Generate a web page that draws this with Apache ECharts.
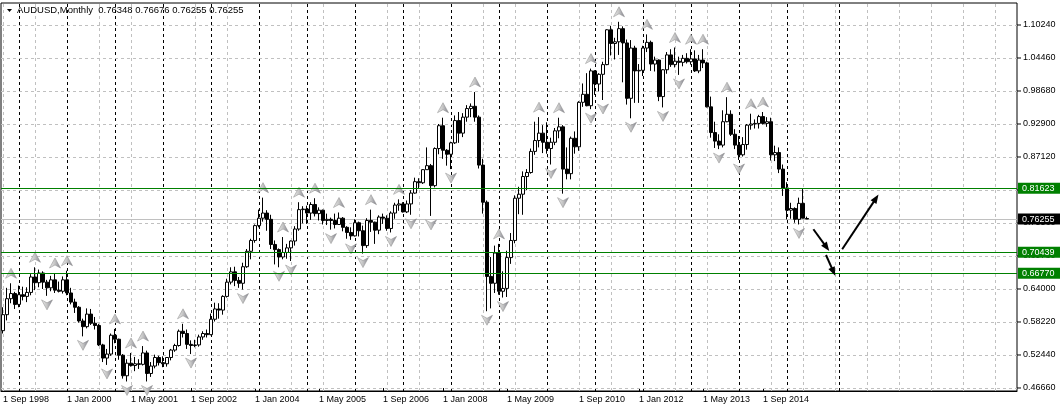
<!DOCTYPE html>
<html>
<head>
<meta charset="utf-8">
<script src="https://cdn.jsdelivr.net/npm/echarts@6.0.0/dist/echarts.min.js"></script>
<style>
html,body{margin:0;padding:0;background:#ffffff;}
#chart{width:1060px;height:409px;}
</style>
</head>
<body>
<div id="chart"></div>
<script>
// ---------------- data ----------------
const headerText = 'AUDUSD,Monthly  0.76348 0.76676 0.76255 0.76255';
const firstYear = 1998, firstMonth = 9;   // first monthly bar: Sep 1998
const axisMonths = 254;                   // slots on the time axis (incl. right-hand empty space)

// Monthly OHLC, Sep 1998 .. Jun 2015
const opens = [
  0.5670,0.5950,0.6230,0.6320,
  0.6130,0.6300,0.6270,0.6340,0.6610,0.6510,0.6680,0.6520,0.6420,0.6560,0.6380,0.6360,
  0.6560,0.6330,0.6170,0.6080,0.5840,0.5740,0.5960,0.5800,0.5760,0.5420,0.5190,0.5260,
  0.5590,0.5520,0.5240,0.4880,0.5100,0.5060,0.5090,0.5080,0.5280,0.4920,0.5050,0.5200,
  0.5110,0.5090,0.5200,0.5330,0.5410,0.5660,0.5620,0.5430,0.5410,0.5420,0.5560,0.5620,
  0.5600,0.5870,0.6050,0.6030,0.6270,0.6520,0.6700,0.6550,0.6500,0.6790,0.7060,0.7250,
  0.7510,0.7640,0.7730,0.7620,0.7180,0.7090,0.6960,0.7040,0.7120,0.7240,0.7450,0.7790,
  0.7800,0.7730,0.7880,0.7720,0.7780,0.7600,0.7620,0.7600,0.7530,0.7640,0.7480,0.7390,
  0.7330,0.7560,0.7420,0.7160,0.7600,0.7570,0.7430,0.7660,0.7640,0.7460,0.7730,0.7870,
  0.7890,0.7750,0.7890,0.8080,0.8280,0.8260,0.8490,0.8560,0.8210,0.8860,0.9260,0.8830,
  0.8760,0.8960,0.9350,0.9130,0.9410,0.9560,0.9600,0.9410,0.8570,0.7920,0.6620,0.6500,
  0.7030,0.6360,0.6410,0.6950,0.7250,0.7990,0.8060,0.8370,0.8440,0.8810,0.9000,0.9130,
  0.8970,0.8860,0.8970,0.9170,0.9240,0.8500,0.8420,0.9040,0.8890,0.9670,0.9810,0.9610,
  1.0220,0.9990,1.0160,1.0330,1.0940,1.0700,1.0730,1.0960,1.0710,0.9740,1.0620,1.0220,
  1.0230,1.0620,1.0720,1.0340,1.0410,0.9770,1.0240,1.0500,1.0330,1.0390,1.0370,1.0440,
  1.0380,1.0430,1.0220,1.0410,1.0360,0.9590,0.9140,0.8990,0.8920,0.9330,0.9460,0.9110,
  0.8920,0.8750,0.8930,0.9270,0.9290,0.9300,0.9420,0.9300,0.9330,0.8750,0.8790,0.8500,
  0.8170,0.7780,0.7810,0.7620,0.7900,0.76348
];
const highs = [
  0.6080,0.6420,0.6500,0.6350,
  0.6460,0.6440,0.6430,0.6660,0.6780,0.6740,0.6710,0.6560,0.6630,0.6680,0.6530,0.6620,
  0.6720,0.6420,0.6230,0.6100,0.5880,0.6060,0.6050,0.5910,0.5790,0.5440,0.5350,0.5620,
  0.5700,0.5530,0.5260,0.5170,0.5280,0.5210,0.5170,0.5400,0.5320,0.5120,0.5250,0.5230,
  0.5220,0.5200,0.5350,0.5440,0.5690,0.5790,0.5690,0.5500,0.5510,0.5600,0.5660,0.5690,
  0.5970,0.6160,0.6150,0.6290,0.6580,0.6780,0.6790,0.6610,0.6860,0.7100,0.7280,0.7530,
  0.7790,0.8000,0.7780,0.7700,0.7250,0.7110,0.7310,0.7190,0.7250,0.7500,0.7920,0.7850,
  0.7860,0.7920,0.7990,0.7830,0.7790,0.7720,0.7650,0.7720,0.7740,0.7660,0.7500,0.7480,
  0.7620,0.7580,0.7510,0.7640,0.7790,0.7580,0.7690,0.7720,0.7690,0.7760,0.7910,0.7970,
  0.7920,0.7950,0.8130,0.8350,0.8340,0.8500,0.8880,0.8590,0.8880,0.9290,0.9400,0.8850,
  0.8980,0.9440,0.9500,0.9480,0.9620,0.9650,0.9850,0.9440,0.8680,0.7950,0.6960,0.7160,
  0.7190,0.6710,0.7070,0.7380,0.8040,0.8190,0.8460,0.8500,0.8860,0.9330,0.9410,0.9270,
  0.9320,0.9050,0.9220,0.9400,0.9270,0.8880,0.9070,0.9160,0.9690,1.0000,1.0180,1.0260,
  1.0230,1.0180,1.0380,1.0950,1.1010,1.0800,1.1080,1.1000,1.0770,1.0760,1.0660,1.0340,
  1.0660,1.0860,1.0750,1.0470,1.0420,1.0250,1.0550,1.0600,1.0630,1.0470,1.0500,1.0530,
  1.0600,1.0580,1.0500,1.0600,1.0380,0.9770,0.9330,0.9110,0.9530,0.9760,0.9530,0.9200,
  0.9080,0.9060,0.9290,0.9470,0.9370,0.9450,0.9500,0.9410,0.9400,0.8910,0.8880,0.8580,
  0.8270,0.7910,0.7830,0.8000,0.8163,0.76676
];
const lows = [
  0.5620,0.5850,0.6150,0.6050,
  0.6080,0.6200,0.6170,0.6290,0.6380,0.6430,0.6400,0.6280,0.6360,0.6330,0.6340,0.6320,
  0.6290,0.6130,0.5980,0.5810,0.5570,0.5710,0.5770,0.5690,0.5400,0.5120,0.5070,0.5230,
  0.5450,0.5160,0.4830,0.4780,0.5040,0.4960,0.5000,0.5060,0.4780,0.4860,0.5010,0.5060,
  0.5030,0.5040,0.5150,0.5300,0.5390,0.5550,0.5350,0.5260,0.5380,0.5390,0.5510,0.5550,
  0.5590,0.5830,0.5880,0.5950,0.6250,0.6480,0.6450,0.6420,0.6390,0.6770,0.6920,0.7210,
  0.7480,0.7580,0.7420,0.7100,0.6830,0.6780,0.6920,0.6930,0.6890,0.7160,0.7420,0.7550,
  0.7540,0.7610,0.7670,0.7600,0.7530,0.7520,0.7440,0.7460,0.7530,0.7410,0.7280,0.7260,
  0.7320,0.7320,0.7020,0.7120,0.7400,0.7190,0.7360,0.7540,0.7420,0.7390,0.7630,0.7770,
  0.7740,0.7730,0.7700,0.8070,0.8160,0.8240,0.8490,0.7680,0.8180,0.8760,0.8680,0.8560,
  0.8500,0.8940,0.8960,0.9060,0.9330,0.9410,0.9330,0.8510,0.7720,0.6010,0.6060,0.6330,
  0.6300,0.6250,0.6260,0.6840,0.7200,0.7710,0.7700,0.8130,0.8420,0.8750,0.8880,0.8780,
  0.8770,0.8580,0.8920,0.9040,0.8070,0.8320,0.8320,0.8770,0.8820,0.9590,0.9600,0.9550,
  0.9800,0.9860,0.9710,1.0320,1.0490,1.0420,1.0500,1.0020,0.9630,0.9390,0.9660,0.9660,
  1.0130,1.0550,1.0220,1.0210,0.9690,0.9580,1.0170,1.0290,1.0280,1.0150,1.0300,1.0350,
  1.0330,1.0200,1.0180,1.0270,0.9580,0.9050,0.8870,0.8850,0.8880,0.9320,0.9080,0.8850,
  0.8660,0.8720,0.8840,0.9190,0.9210,0.9210,0.9280,0.9240,0.8650,0.8640,0.8430,0.8030,
  0.7620,0.7630,0.7560,0.7530,0.7640,0.76255
];
const closes = [
  0.5950,0.6230,0.6320,0.6130,
  0.6300,0.6270,0.6340,0.6610,0.6510,0.6680,0.6520,0.6420,0.6560,0.6380,0.6360,0.6560,
  0.6330,0.6170,0.6080,0.5840,0.5740,0.5960,0.5800,0.5760,0.5420,0.5190,0.5260,0.5590,
  0.5520,0.5240,0.4880,0.5100,0.5060,0.5090,0.5080,0.5280,0.4920,0.5050,0.5200,0.5110,
  0.5090,0.5200,0.5330,0.5410,0.5660,0.5620,0.5430,0.5410,0.5420,0.5560,0.5620,0.5600,
  0.5870,0.6050,0.6030,0.6270,0.6520,0.6700,0.6550,0.6500,0.6790,0.7060,0.7250,0.7510,
  0.7640,0.7730,0.7620,0.7180,0.7090,0.6960,0.7040,0.7120,0.7240,0.7450,0.7790,0.7800,
  0.7730,0.7880,0.7720,0.7780,0.7600,0.7620,0.7600,0.7530,0.7640,0.7480,0.7390,0.7330,
  0.7560,0.7420,0.7160,0.7600,0.7570,0.7430,0.7660,0.7640,0.7460,0.7730,0.7870,0.7890,
  0.7750,0.7890,0.8080,0.8280,0.8260,0.8490,0.8560,0.8210,0.8860,0.9260,0.8830,0.8760,
  0.8960,0.9350,0.9130,0.9410,0.9560,0.9600,0.9410,0.8570,0.7920,0.6620,0.6500,0.7030,
  0.6360,0.6410,0.6950,0.7250,0.7990,0.8060,0.8370,0.8440,0.8810,0.9000,0.9130,0.8970,
  0.8860,0.8970,0.9170,0.9240,0.8500,0.8420,0.9040,0.8890,0.9670,0.9810,0.9610,1.0220,
  0.9990,1.0160,1.0330,1.0940,1.0700,1.0730,1.0960,1.0710,0.9740,1.0620,1.0220,1.0230,
  1.0620,1.0720,1.0340,1.0410,0.9770,1.0240,1.0500,1.0330,1.0390,1.0370,1.0440,1.0380,
  1.0430,1.0220,1.0410,1.0360,0.9590,0.9140,0.8990,0.8920,0.9330,0.9460,0.9110,0.8920,
  0.8750,0.8930,0.9270,0.9290,0.9300,0.9420,0.9300,0.9330,0.8750,0.8790,0.8500,0.8170,
  0.7780,0.7810,0.7620,0.7900,0.7640,0.76255
];

// Bill Williams fractal marks (bar indices)
const upFractals = [2,8,13,16,28,32,35,45,65,70,74,78,84,92,99,110,118,124,134,139,147,154,161,168,172,175,181,187,190];
const downFractals = [11,20,26,31,36,47,60,69,72,82,87,90,97,102,107,112,121,125,137,140,147,150,157,165,169,179,184,199];

// price scale ticks and horizontal objects
const priceTicks = [0.4666,0.5244,0.5822,0.6400,0.6978,0.7556,0.8134,0.8712,0.9290,0.9868,1.0446,1.1024];
const levelLines = [0.81623, 0.70439, 0.66770];
const bidPrice = 0.76255;

// time scale labels (bar index where each label sits)
const timeLabelIdx = [0,16,32,47,63,79,95,110,126,144,159,175,190];
const timeLabels = ['1 Sep 1998','1 Jan 2000','1 May 2001','1 Sep 2002','1 Jan 2004','1 May 2005','1 Sep 2006','1 Jan 2008','1 May 2009','1 Sep 2010','1 Jan 2012','1 May 2013','1 Sep 2014'];

// yearly period separators (bar index)
const yearSepIdx = [4,16,28,40,52,64,76,88,100,112,124,136,148,160,172,184,196,209];

// hand-drawn arrows: [barIndex, price] -> [barIndex, price]
const arrowLines = [
  [[202.6, 0.7446], [205.9, 0.7130]],
  [[205.75, 0.6995], [207.6, 0.6703]],
  [[209.8, 0.7095], [218.25, 0.7988]]
];

// ---------------- build ----------------
const FONT = '"Liberation Sans", Arial, sans-serif';
const months = [];
for (let k = 0; k < axisMonths; k++) {
  const m = firstMonth - 1 + k;
  const y = firstYear + Math.floor(m / 12);
  const mm = (m % 12) + 1;
  months.push(y + '-' + (mm < 10 ? '0' : '') + mm);
}
const candleData = opens.map((o, i) => [o, closes[i], lows[i], highs[i]]);
const upData = upFractals.map(i => [i, highs[i]]);
const downData = downFractals.map(i => [i, lows[i]]);
const labelAt = new Map(timeLabelIdx.map((i, k) => [i, timeLabels[k]]));

const GRAY = '#c0c0c0';
const gridMarks = [];
for (let k = 0; k * 8 < axisMonths; k++) {
  gridMarks.push({ xAxis: k * 8, lineStyle: { color: GRAY, type: [3, 3], width: 1 }, label: { show: false } });
}
yearSepIdx.forEach(i => gridMarks.push({ xAxis: i, lineStyle: { color: '#000', type: [3, 3], width: 1 }, label: { show: false } }));
priceTicks.forEach(v => gridMarks.push({
  yAxis: v,
  lineStyle: { color: GRAY, type: [3, 3], width: 1 },
  label: {
    show: true, position: 'end', distance: 0,
    formatter: '{t| }{v|' + v.toFixed(5) + '}',
    rich: {
      t: { width: 4, height: 1, backgroundColor: '#000', verticalAlign: 'middle' },
      v: { padding: [0, 0, 0, 2], color: '#000', fontFamily: FONT, fontSize: 9 }
    }
  }
}));
gridMarks.push({
  yAxis: bidPrice,
  lineStyle: { color: GRAY, type: 'solid', width: 1 },
  label: { show: true, position: 'end', distance: 1, formatter: bidPrice.toFixed(5),
    color: '#fff', backgroundColor: '#000', padding: [1, 8, 0, 4], lineHeight: 10,
    fontFamily: FONT, fontSize: 9 }
});

const levelMarks = levelLines.map(v => ({
  yAxis: v,
  lineStyle: { color: '#008000', type: 'solid', width: 1 },
  label: { show: true, position: 'end', distance: 1, formatter: v.toFixed(5),
    color: '#fff', backgroundColor: '#008000', padding: [1, 8, 0, 4], lineHeight: 10,
    fontFamily: FONT, fontSize: 9 }
}));

const fractalColor = {
  type: 'linear', x: 0, y: 0, x2: 1, y2: 0,
  colorStops: [{ offset: 0, color: '#ececec' }, { offset: 0.5, color: '#c4c4c4' }, { offset: 1, color: '#80808c' }]
};

const chart = echarts.init(document.getElementById('chart'), null, { renderer: 'canvas' });
chart.setOption({
  animation: false,
  backgroundColor: '#ffffff',
  title: {
    text: headerText, left: 17, top: 5, padding: 0,
    textStyle: { fontFamily: FONT, fontSize: 9.5, fontWeight: 'normal', color: '#000' }
  },
  graphic: [{ type: 'polygon', shape: { points: [[7, 9], [12, 9], [9.5, 12]] }, style: { fill: '#000' }, z: 100 }],
  grid: { left: 1, right: 43, top: 3, bottom: 18, show: true, borderColor: '#000', borderWidth: 1, backgroundColor: '#fff' },
  xAxis: [{
    type: 'category', data: months, boundaryGap: true,
    axisLine: { show: true, lineStyle: { color: '#000' } },
    axisTick: { show: true, inside: true, length: 3, alignWithLabel: true,
      interval: (i) => labelAt.has(i), lineStyle: { color: '#000' } },
    axisLabel: { show: true, interval: (i) => labelAt.has(i), formatter: (v, i) => labelAt.get(i) || '',
      align: 'left', margin: 4, color: '#000', fontFamily: FONT, fontSize: 9, hideOverlap: false },
    splitLine: { show: false }
  }, {
    type: 'value', min: -0.5, max: axisMonths - 0.5, show: false
  }],
  yAxis: {
    type: 'value', position: 'right', min: 0.46131, max: 1.14093, scale: true,
    axisLine: { show: false }, axisTick: { show: false }, axisLabel: { show: false }, splitLine: { show: false }
  },
  series: [
    { name: 'grid', type: 'line', data: [], silent: true, z: 1,
      markLine: { silent: true, symbol: ['none', 'none'], precision: 6, z: 1, animation: false, data: gridMarks } },
    { name: 'AUDUSD', type: 'candlestick', data: candleData, barWidth: 3, z: 3,
      itemStyle: { color: '#ffffff', color0: '#000000', borderColor: '#000000', borderColor0: '#000000', borderWidth: 1 } },
    { name: 'fractalUp', type: 'scatter', data: upData, z: 4, silent: true,
      symbol: 'path://M5,0L10,10L5,7L0,10Z', symbolSize: [11, 10], symbolOffset: [0, -10],
      itemStyle: { color: fractalColor, borderColor: '#8a8a8a', borderWidth: 0.5, opacity: 1 } },
    { name: 'fractalDown', type: 'scatter', data: downData, z: 4, silent: true,
      symbol: 'path://M0,0L5,3L10,0L5,10Z', symbolSize: [11, 10], symbolOffset: [0, 9],
      itemStyle: { color: fractalColor, borderColor: '#8a8a8a', borderWidth: 0.5, opacity: 1 } },
    { name: 'levels', type: 'line', data: [], silent: true, z: 6,
      markLine: { silent: true, symbol: ['none', 'none'], precision: 6, z: 6, animation: false, data: levelMarks } },
    { name: 'arrows', type: 'line', xAxisIndex: 1, data: [], silent: true, z: 7,
      markLine: { silent: true, precision: 6, z: 7, animation: false,
        symbol: ['none', 'triangle'], symbolSize: [7, 9],
        lineStyle: { color: '#000', width: 2, type: 'solid' }, label: { show: false },
        data: arrowLines.map(a => [{ coord: a[0] }, { coord: a[1] }]) } }
  ]
});
</script>
</body>
</html>
